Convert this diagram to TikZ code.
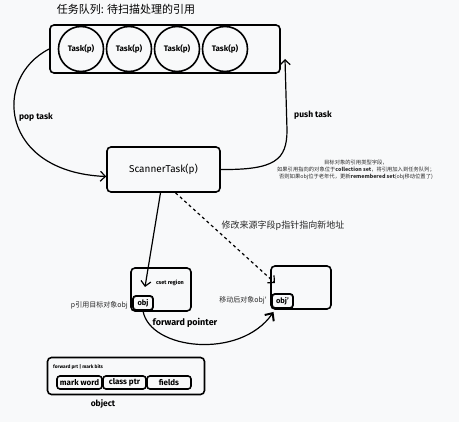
\documentclass[tikz,border=0pt]{standalone}
\usepackage{fontspec}
\setmainfont{Fira Sans}
\newfontfamily\cjk{Noto Sans CJK SC}
\usetikzlibrary{arrows.meta}
\definecolor{bgc}{RGB}{248,249,250}
\definecolor{txtc}{RGB}{40,40,40}
\begin{document}
\begin{tikzpicture}[x=1pt,y=-1pt,
  every node/.style={inner sep=0pt},
  box/.style={draw, line width=1.6pt, rounded corners=4pt},
  task/.style={draw, circle, line width=1.6pt, minimum size=45pt, font=\bfseries\fontsize{8}{9}\selectfont},
  lab/.style={font=\bfseries\fontsize{8.5}{9}\selectfont},
  cn/.style={font=\cjk\fontsize{7}{8}\selectfont, text=txtc},
  arr/.style={line width=1.2pt, -{Straight Barb[length=5pt,width=10pt]}},
  fld/.style={box, rounded corners=3pt, minimum height=13pt, font=\bfseries\fontsize{8}{8}\selectfont}]
\fill[bgc] (0,0) rectangle (459,422);
\useasboundingbox (0,0) rectangle (459,422);

% title
\node[font=\cjk\fontsize{11}{12}\selectfont] (title) at (126,9) {任务队列: 待扫描处理的引用};

% queue
\node[box, minimum width=230pt, minimum height=48pt] (queue) at (165,49) {};
\node[task] (t1) at (81,49) {Task(p)};
\node[task] (t2) at (129,49) {Task(p)};
\node[task] (t3) at (177,49) {Task(p)};
\node[task] (t4) at (225,49) {Task(p)};

% scanner
\node[box, minimum width=113pt, minimum height=45pt, font=\fontsize{10}{11}\selectfont] (scan) at (163.5,169.5) {ScannerTask(p)};

% pop / push
\draw[arr] (queue.west) .. controls (-8,78) and (0,172) .. ([yshift=-7pt]scan.west);
\node[lab] (pop) at (36,117) {pop task};
\coordinate (pushend) at (285,59);
\draw[arr] (scan.east) .. controls (275,170) and (287,160) .. (287,130) -- (pushend);
\node[lab] (push) at (313,115) {push task};

% note
\node[font=\cjk\fontsize{5.3}{7.2}\selectfont, align=center, text=txtc] (note) at (356,170)
 {目标对象的引用类型字段，\\如果引用指向的对象位于\textbf{collection set}，将引用加入到任务队列；\\否则如果obj位于老年代，更新\textbf{remembered set}(obj移动位置了)};

% regions
\node[box, minimum width=60pt, minimum height=43pt] (cset) at (161,289.5) {};
\node[lab, font=\bfseries\fontsize{5.5}{6}\selectfont] (csetlab) at (170,283) {cset region};
\node[box, rounded corners=3pt, line width=1.8pt, minimum width=20pt, minimum height=14pt, font=\bfseries\fontsize{7.5}{8}\selectfont] (obj) at (143,303) {obj};
\node[cn, anchor=east] (objlab) at (128,305) {p引用目标对象obj};

\node[box, minimum width=60pt, minimum height=43pt] (rbox) at (301,287.5) {};
\node[box, rounded corners=3pt, line width=1.8pt, minimum width=21pt, minimum height=14pt, font=\bfseries\fontsize{7.5}{8}\selectfont] (objp) at (282.5,301) {obj'};
\node[cn, anchor=east] (objplab) at (267,300) {移动后对象obj'};

\coordinate (csetin) at (145,287);
\draw[arr] ([xshift=-3pt]scan.south) -- (csetin);
\coordinate (rin) at (275,283);
\draw[arr, dashed] ([xshift=12pt]scan.south) -- (rin);
\node[font=\cjk\fontsize{9}{10}\selectfont, text=txtc] (modlab) at (283,226) {修改来源字段p指针指向新地址};

% forward pointer
\coordinate (fpend) at (273.5,312);
\draw[line width=1.2pt, -{Straight Barb[length=6pt,width=11pt,line width=2pt]}] (obj.south) .. controls (150,350) and (240,360) .. (fpend);
\node[lab, font=\bfseries\fontsize{9}{9}\selectfont] (fplab) at (185,323) {forward pointer};

% object layout
\node[box, minimum width=157pt, minimum height=37pt] (objbox) at (126,376) {};
\node[font=\bfseries\fontsize{4.8}{5}\selectfont, anchor=west] (fplabel) at (53,367) {forward prt | mark bits};
\node[fld, minimum width=45pt] (mw) at (79.5,382.5) {mark word};
\node[fld, minimum width=43pt] (cp) at (124.5,382.5) {class ptr};
\node[fld, minimum width=44pt] (fd) at (169,382.5) {fields};
\node[lab] (objname) at (103,404) {object};
\end{tikzpicture}
\end{document}
